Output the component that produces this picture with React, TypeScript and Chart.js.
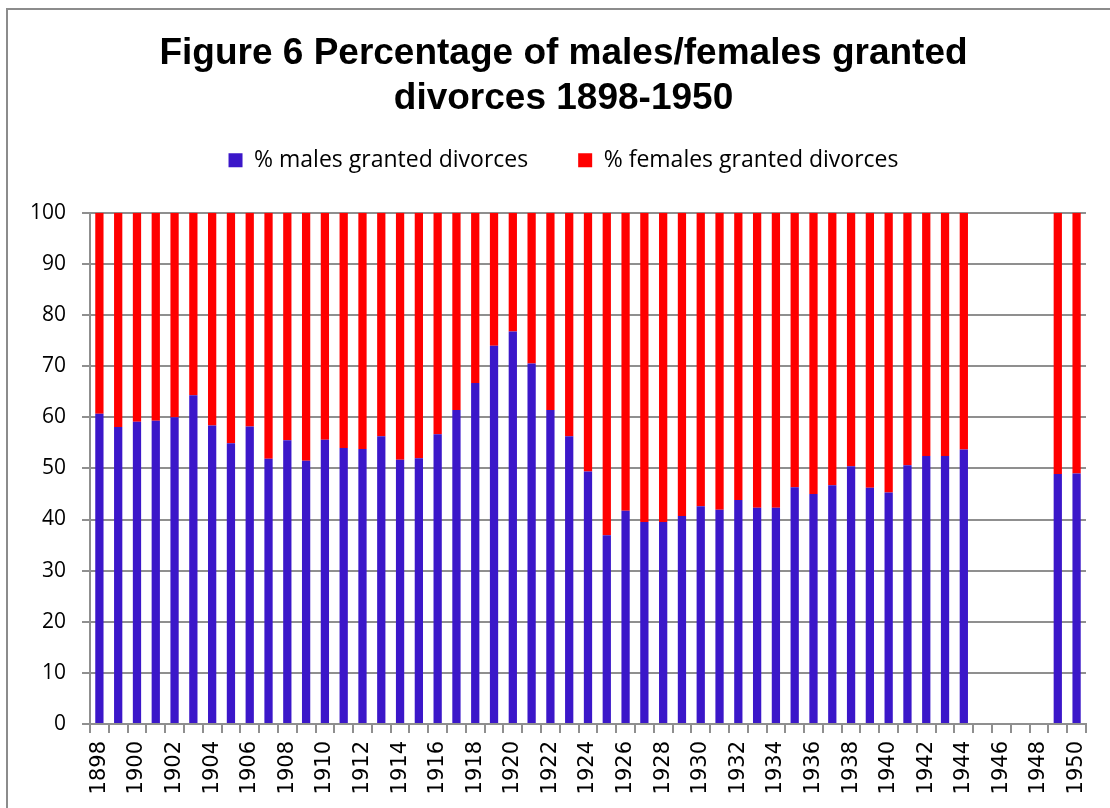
import React, { useEffect, useRef } from "react";
import { Chart, registerables } from "chart.js";

Chart.register(...registerables);

const years: string[] = [
  "1898","1899","1900","1901","1902","1903","1904","1905","1906","1907",
  "1908","1909","1910","1911","1912","1913","1914","1915","1916","1917",
  "1918","1919","1920","1921","1922","1923","1924","1925","1926","1927",
  "1928","1929","1930","1931","1932","1933","1934","1935","1936","1937",
  "1938","1939","1940","1941","1942","1943","1944","1945","1946","1947",
  "1948","1949","1950",
];

const malesPct: (number | null)[] = [
  60.7, 58.1, 59.1, 59.3, 60.0, 64.3, 58.4, 54.9, 58.2, 51.9,
  55.5, 51.5, 55.6, 54.0, 53.8, 56.3, 51.7, 52.0, 56.7, 61.4,
  66.7, 74.0, 76.8, 70.5, 61.4, 56.3, 49.4, 36.9, 41.7, 39.5,
  39.5, 40.7, 42.6, 41.9, 43.8, 42.3, 42.3, 46.3, 45.0, 46.7,
  50.4, 46.2, 45.3, 50.6, 52.4, 52.4, 53.7, null, null, null,
  null, 48.9, 49.0,
];

const femalesPct: (number | null)[] = malesPct.map((v) =>
  v === null ? null : Math.round((100 - v) * 10) / 10
);

const titleLines: string[] = [
  "Figure 6 Percentage of males/females granted",
  "divorces 1898-1950",
];

const seriesNames: string[] = [
  "% males granted divorces",
  "% females granted divorces",
];

const GRID = "#8f8f8f";

const layoutTweaks = {
  id: "layoutTweaks",
  beforeInit(chart: any) {
    const legend = chart.legend;
    if (!legend) return;
    const orig = legend.fit;
    legend.fit = function () {
      orig.call(this);
      this.height += 31;
    };
  },
  beforeDraw(chart: any) {
    const y = chart.scales && chart.scales.y;
    if (y) y._computeLabelArea = () => undefined;
  },
};

export default function App() {
  const canvasRef = useRef<HTMLCanvasElement | null>(null);

  useEffect(() => {
    document.body.style.margin = "0";
    const canvas = canvasRef.current;
    if (!canvas) return;
    const chart = new Chart(canvas, {
      type: "bar",
      data: {
        labels: years,
        datasets: [
          {
            label: seriesNames[0],
            data: malesPct,
            backgroundColor: "#3B17C9",
            barPercentage: 0.44,
            categoryPercentage: 1,
          },
          {
            label: seriesNames[1],
            data: femalesPct,
            backgroundColor: "#FF0000",
            barPercentage: 0.44,
            categoryPercentage: 1,
          },
        ],
      },
      plugins: [layoutTweaks],
      options: {
        animation: false,
        responsive: false,
        maintainAspectRatio: false,
        layout: { padding: { left: 40, right: 23, top: 0, bottom: 0 } },
        plugins: {
          title: {
            display: true,
            text: titleLines,
            color: "#000",
            font: { family: "'Liberation Sans', Arial, sans-serif", size: 37, weight: "bold", lineHeight: 1.22 },
            padding: { top: 31.5, bottom: -23 },
          },
          legend: {
            display: true,
            position: "top",
            labels: {
              boxWidth: 14,
              boxHeight: 14,
              padding: 50,
              color: "#000",
              font: { family: "'Open Sans', sans-serif", size: 23 },
            },
          },
          tooltip: { enabled: false },
        },
        scales: {
          x: {
            stacked: true,
            offset: true,
            grid: {
              display: true,
              drawOnChartArea: false,
              drawTicks: true,
              tickLength: 9,
              color: GRID,
              lineWidth: 2,
              offset: true,
            },
            border: { display: true, color: GRID, width: 2 },
            ticks: {
              autoSkip: false,
              maxRotation: 90,
              minRotation: 90,
              padding: 8,
              color: "#000",
              font: { family: "'DejaVu Sans', sans-serif", size: 21 },
              callback: (_v: any, i: number) => (i % 2 === 0 ? years[i] : ""),
            },
            afterFit: (scale: any) => {
              scale.height = 84;
            },
          },
          y: {
            stacked: true,
            min: 0,
            max: 100,
            grid: {
              color: GRID,
              lineWidth: 2,
              drawTicks: true,
              tickLength: 8,
            },
            border: { display: true, color: GRID, width: 2 },
            ticks: {
              stepSize: 10,
              padding: 16,
              color: "#000",
              font: { family: "'Open Sans', sans-serif", size: 21 },
            },
            afterFit: (scale: any) => {
              scale.width = 50;
            },
          },
        },
      },
    });
    return () => chart.destroy();
  }, []);

  return (
    <div style={{ position: "relative", width: 1110, height: 808, overflow: "hidden", background: "#fff" }}>
      <div
        style={{
          position: "absolute",
          left: 6,
          top: 8,
          width: 1200,
          height: 900,
          borderLeft: "2px solid #8c8c8c",
          borderTop: "2px solid #8c8c8c",
          boxSizing: "border-box",
        }}
      />
      <canvas ref={canvasRef} width={1110} height={808} style={{ position: "absolute", left: 0, top: 0 }} />
    </div>
  );
}
